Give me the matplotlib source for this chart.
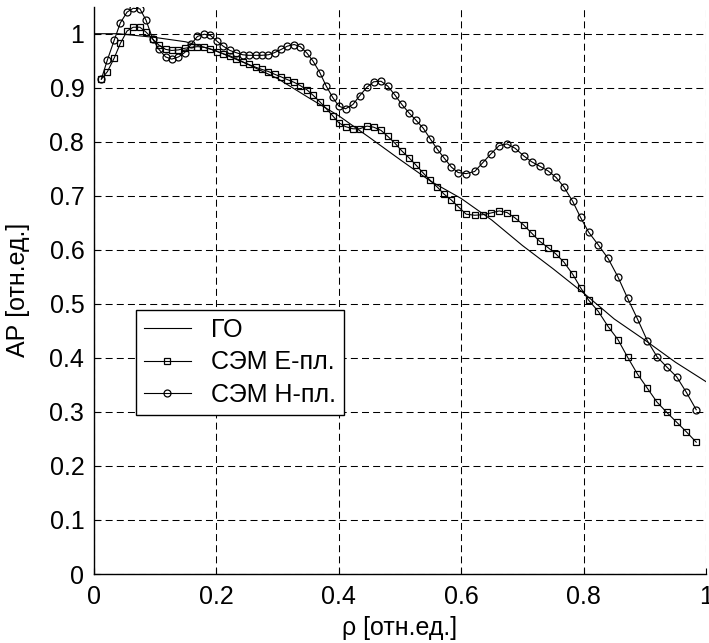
import numpy as np
import matplotlib
matplotlib.use("Agg")
import matplotlib.pyplot as plt

plt.rcParams['font.family'] = ['Liberation Sans', 'DejaVu Sans']

# geometric optics curve
rho_go = [0.0, 0.04, 0.10, 0.15, 0.20, 0.25, 0.30, 0.35, 0.40, 0.45, 0.50,
          0.55, 0.60, 0.65, 0.70, 0.75, 0.80, 0.85, 0.90, 0.95, 1.0]
ap_go = [1.0, 1.0, 0.993, 0.985, 0.968, 0.944, 0.917, 0.882, 0.848, 0.808, 0.767,
         0.727, 0.695, 0.655, 0.608, 0.565, 0.520, 0.472, 0.433, 0.392, 0.356]

# sample points of the two CЭМ curves
rho = [0.012, 0.022, 0.033, 0.043, 0.054, 0.064, 0.075, 0.085, 0.096, 0.106,
       0.117, 0.127, 0.138, 0.148, 0.159, 0.169, 0.180, 0.190, 0.201, 0.211,
       0.222, 0.232, 0.243, 0.253, 0.264, 0.274, 0.285, 0.295, 0.306, 0.316,
       0.327, 0.337, 0.348, 0.358, 0.369, 0.379, 0.390, 0.400, 0.411, 0.423,
       0.434, 0.446, 0.457, 0.469, 0.480, 0.492, 0.503, 0.515, 0.526, 0.538,
       0.549, 0.561, 0.572, 0.584, 0.595, 0.608, 0.622, 0.635, 0.648, 0.662,
       0.675, 0.688, 0.702, 0.715, 0.728, 0.742, 0.755, 0.768, 0.782, 0.795,
       0.808, 0.824, 0.840, 0.856, 0.872, 0.888, 0.904, 0.920, 0.936, 0.952,
       0.968, 0.984]

ap_e = [0.916, 0.930, 0.955, 0.982, 1.005, 1.012, 1.012, 1.003, 0.990, 0.979,
        0.971, 0.969, 0.970, 0.973, 0.975, 0.976, 0.975, 0.972, 0.967, 0.963,
        0.959, 0.954, 0.948, 0.943, 0.938, 0.934, 0.930, 0.925, 0.920, 0.915,
        0.910, 0.904, 0.896, 0.886, 0.874, 0.862, 0.848, 0.835, 0.828, 0.824,
        0.824, 0.829, 0.827, 0.821, 0.810, 0.797, 0.783, 0.770, 0.757, 0.742,
        0.729, 0.716, 0.703, 0.692, 0.680, 0.666, 0.664, 0.665, 0.668, 0.672,
        0.669, 0.659, 0.646, 0.631, 0.616, 0.604, 0.592, 0.577, 0.555, 0.530,
        0.507, 0.486, 0.458, 0.434, 0.401, 0.370, 0.344, 0.318, 0.299, 0.281,
        0.263, 0.244]

ap_h = [0.916, 0.952, 0.988, 1.020, 1.040, 1.047, 1.046, 1.025, 0.990, 0.971,
        0.957, 0.953, 0.957, 0.965, 0.981, 0.995, 0.999, 0.997, 0.986, 0.977,
        0.969, 0.965, 0.961, 0.960, 0.960, 0.960, 0.961, 0.965, 0.971, 0.977,
        0.980, 0.976, 0.964, 0.949, 0.928, 0.904, 0.882, 0.866, 0.861, 0.869,
        0.885, 0.901, 0.911, 0.912, 0.903, 0.886, 0.869, 0.853, 0.840, 0.825,
        0.806, 0.786, 0.770, 0.753, 0.743, 0.741, 0.745, 0.761, 0.777, 0.793,
        0.796, 0.788, 0.774, 0.763, 0.755, 0.746, 0.734, 0.716, 0.690, 0.660,
        0.633, 0.609, 0.584, 0.550, 0.510, 0.472, 0.432, 0.402, 0.383, 0.365,
        0.336, 0.304]

labels = ['ГО', 'СЭМ Е-пл.', 'СЭМ Н-пл.']
xticks = [0, 0.2, 0.4, 0.6, 0.8, 1]
yticks = [0, 0.1, 0.2, 0.3, 0.4, 0.5, 0.6, 0.7, 0.8, 0.9, 1]

fig = plt.figure(figsize=(7.09, 6.43), dpi=100)
ax = fig.add_axes([0.1326, 0.1073, 0.8632, 0.8823])

ax.plot(rho_go, ap_go, color='k', lw=0.8, label=labels[0])
ax.plot(rho, ap_e, color='k', lw=0.8, marker='s', ms=5, mfc='none', mew=0.9,
        label=labels[1])
ax.plot(rho, ap_h, color='k', lw=0.8, marker='o', ms=5, mfc='none', mew=0.9,
        label=labels[2])

ax.set_xlim(0, 1)
ax.set_ylim(0, 1.05)
ax.set_xticks(xticks)
ax.set_xticklabels(['0', '0.2', '0.4', '0.6', '0.8', '1'])
ax.set_yticks(yticks)
ax.set_yticklabels(['0', '0.1', '0.2', '0.3', '0.4', '0.5', '0.6', '0.7', '0.8', '0.9', '1'])
ax.tick_params(direction='in', length=4.5, width=0.8, labelsize=18, colors='k')
ax.tick_params(axis='x', pad=8)
ax.tick_params(axis='y', pad=7)

ax.spines['top'].set_visible(False)
ax.spines['right'].set_visible(False)
for s in ['left', 'bottom']:
    ax.spines[s].set_linewidth(1.0)

ax.set_axisbelow(True)
ax.grid(True, color='k', linewidth=0.75, linestyle=(0, (6.7, 4)))

ax.set_xlabel('ρ [отн.ед.]', fontsize=18, labelpad=5)
ax.set_ylabel('АР [отн.ед.]', fontsize=18, labelpad=14)

leg = ax.legend(loc='upper left', bbox_to_anchor=(0.068, 0.4654), fontsize=18,
                numpoints=1, handlelength=1.9, handletextpad=0.8,
                labelspacing=0.34, borderpad=0.32, borderaxespad=0,
                fancybox=False, framealpha=1, edgecolor='k')
leg.get_frame().set_linewidth(1.0)

fig.savefig('out.png', dpi=100)
